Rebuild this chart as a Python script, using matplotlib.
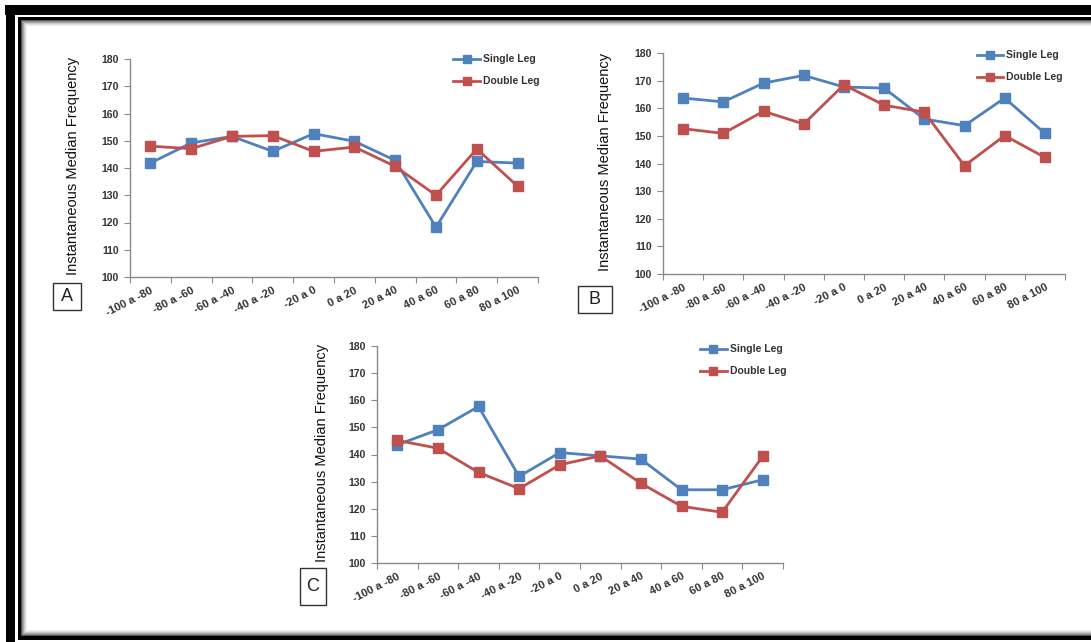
import numpy as np
import matplotlib.pyplot as plt
from matplotlib.patches import Rectangle
from matplotlib.lines import Line2D

W, H = 1091, 642

categories = ["-100 a -80", "-80 a -60", "-60 a -40", "-40 a -20", "-20 a 0",
              "0 a 20", "20 a 40", "40 a 60", "60 a 80", "80 a 100"]

single_a = [141.8, 149.2, 151.6, 146.1, 152.6, 149.8, 142.8, 118.3, 142.4, 141.8]
double_a = [148.0, 147.1, 151.6, 151.9, 146.1, 147.7, 140.6, 130.0, 147.0, 133.3]

single_b = [163.7, 162.3, 169.1, 171.9, 167.7, 167.3, 156.1, 153.7, 163.7, 150.9]
double_b = [152.6, 150.9, 158.9, 154.3, 168.5, 161.1, 158.6, 139.2, 150.1, 142.2]

single_c = [143.6, 149.1, 157.7, 131.9, 140.7, 139.5, 138.3, 127.0, 127.0, 130.7]
double_c = [145.2, 142.3, 133.4, 127.4, 136.2, 139.5, 129.4, 120.9, 118.7, 139.3]

yticks = [100, 110, 120, 130, 140, 150, 160, 170, 180]

blue = "#4F81BD"
red = "#C0504D"
axis_col = "#8a8a8a"
font = "Liberation Sans"


def px_rect(x0, y0, x1, y1):
    return [x0 / W, 1 - y1 / H, (x1 - x0) / W, (y1 - y0) / H]


def panel(fig, box, single, double, letter, letter_box, ylab_x, leg_y):
    x0, y0, x1, y1 = box
    ax = fig.add_axes(px_rect(x0, y0, x1, y1))
    x = np.arange(len(categories))
    ax.plot(x, single, color=blue, lw=2, marker="s", ms=6.5,
            mfc=blue, mec=blue, label="Single Leg", clip_on=False)
    ax.plot(x, double, color=red, lw=2, marker="s", ms=6.5,
            mfc=red, mec=red, label="Double Leg", clip_on=False)
    ax.set_xlim(-0.5, len(categories) - 0.5)
    ax.set_ylim(100, 180)
    ax.set_yticks(yticks)
    ax.set_yticklabels([str(v) for v in yticks], fontsize=7.5, fontweight="bold",
                       family=font, color="#333333")
    ax.set_xticks(np.arange(len(categories) + 1) - 0.5)
    ax.set_xticklabels([])
    ax.set_xticks(x, minor=True)
    ax.set_xticklabels(categories, minor=True, rotation=27, ha="right",
                       rotation_mode="anchor", fontsize=8, fontweight="bold",
                       family=font, color="#333333")
    ax.tick_params(axis="x", which="minor", length=0, pad=6)
    ax.tick_params(axis="x", which="major", length=4, color=axis_col, direction="out")
    ax.tick_params(axis="y", length=4, color=axis_col, pad=4)
    for s in ["top", "right"]:
        ax.spines[s].set_visible(False)
    for s in ["left", "bottom"]:
        ax.spines[s].set_color(axis_col)
        ax.spines[s].set_linewidth(1)
    ax.patch.set_alpha(0)

    # y label
    fig.text(ylab_x / W, 1 - (y0 + y1 - 4) / 2 / H, "Instantaneous Median Frequency",
             rotation=90, ha="center", va="center", fontsize=10.5, family=font,
             color="#111111")

    # legend (manual, Excel style)
    lx0, lx1, ly = leg_y
    for i, (lab, col) in enumerate([("Single Leg", blue), ("Double Leg", red)]):
        yy = 1 - (ly + 22 * i) / H
        fig.add_artist(Line2D([lx0 / W, lx1 / W], [yy, yy], color=col, lw=2,
                              transform=fig.transFigure))
        fig.add_artist(Line2D([(lx0 + lx1) / 2 / W], [yy], color=col, marker="s",
                              ms=6, transform=fig.transFigure))
        fig.text((lx1 + 3) / W, yy, lab, ha="left", va="center", fontsize=7.5,
                 fontweight="bold", family=font, color="#333333")

    # panel letter box
    bx0, by0, bx1, by1 = letter_box
    fig.patches.append(Rectangle((bx0 / W, 1 - by1 / H), (bx1 - bx0) / W, (by1 - by0) / H,
                                 transform=fig.transFigure, fill=False,
                                 edgecolor="#333333", lw=1))
    fig.text((bx0 + bx1) / 2 / W, 1 - (by0 + by1) / 2 / H, letter, ha="center",
             va="center", fontsize=13, family=font, color="#222222")
    return ax


fig = plt.figure(figsize=(W / 100, H / 100), dpi=100)
fig.patch.set_facecolor("white")

# outer frame
def frame_rect(x0, y0, x1, y1, color):
    fig.patches.append(Rectangle((x0 / W, 1 - y1 / H), (x1 - x0) / W, (y1 - y0) / H,
                                 transform=fig.transFigure, facecolor=color,
                                 edgecolor="none"))

frame_rect(5, 5, W, 15, "black")
frame_rect(6, 5, 15, H, "black")
frame_rect(18, 17, W, 20, "black")
frame_rect(18, 17, 21, 640, "black")
frame_rect(18, 636, W, 640, "black")
for k, g in enumerate(["#555555", "#888888", "#aaaaaa", "#c8c8c8", "#e0e0e0", "#f0f0f0"]):
    frame_rect(21 + k, 20 + k, 22 + k, 636 - k, g)
    frame_rect(21 + k, 20 + k, W, 21 + k, g)
    frame_rect(21 + k, 635 - k, W, 636 - k, g)

panel(fig, (130, 59, 538, 277), single_a, double_a, "A",
      (53, 283, 81, 310), 73, (453, 480, 59))
panel(fig, (663, 53, 1065, 274), single_b, double_b, "B",
      (578, 286, 612, 313), 605, (977, 1003, 55))
panel(fig, (377, 346, 783, 563), single_c, double_c, "C",
      (300, 568, 326, 605), 322, (700, 727, 349))

fig.savefig("out.png", dpi=100)
